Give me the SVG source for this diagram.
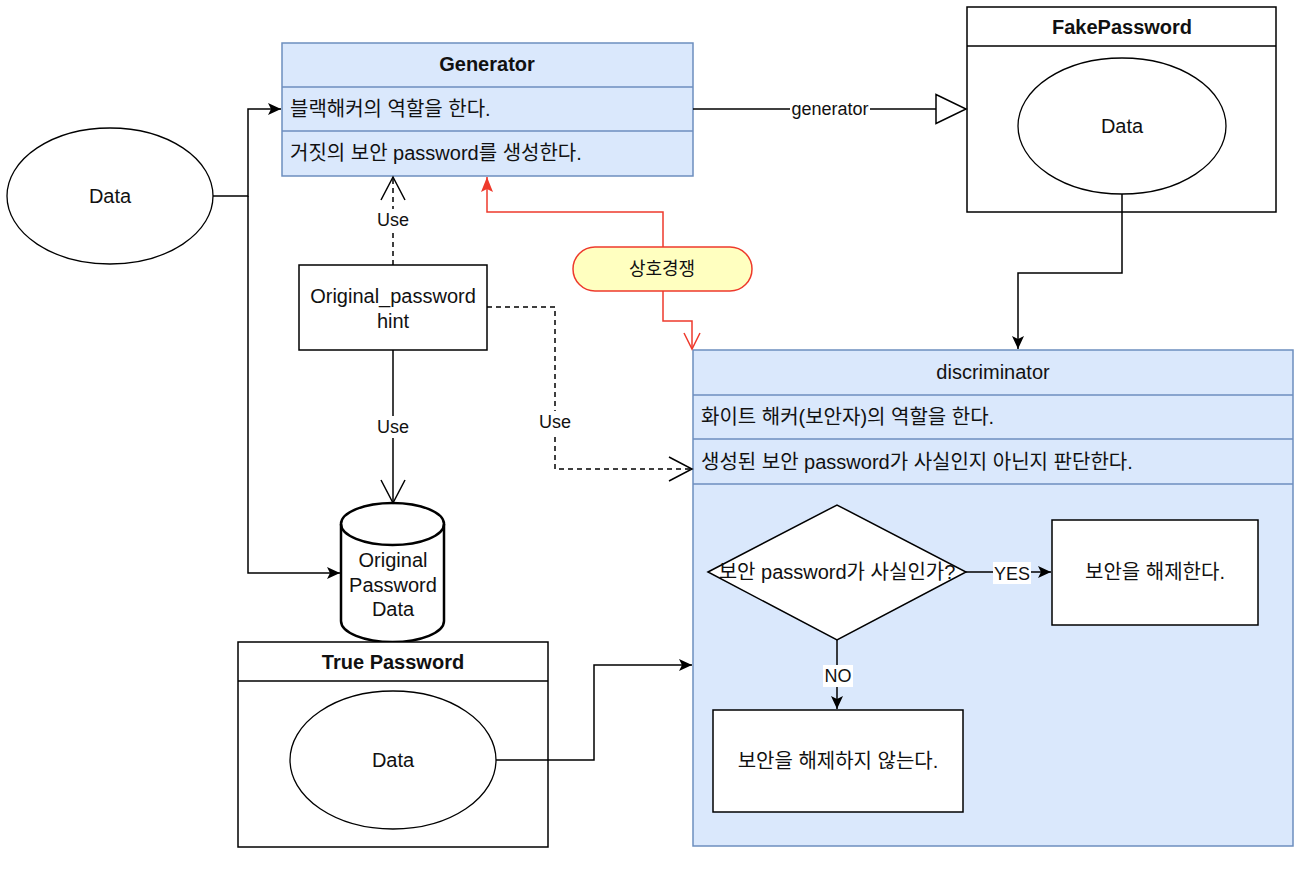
<svg xmlns="http://www.w3.org/2000/svg" width="1300" height="888" viewBox="0 0 1300 888">
<style>
text{font-family:"Liberation Sans","Noto Sans CJK KR",Arial,sans-serif;font-size:20px;fill:#111;dominant-baseline:central}
.c{text-anchor:middle}
.b{font-weight:bold}
.lbl{font-size:18px}
.blue{fill:#dae8fc;stroke:#6c8ebf;stroke-width:1.5}
.bl{stroke:#6c8ebf;stroke-width:1.5}
.box{fill:#fff;stroke:#000;stroke-width:1.5}
.ell{fill:#fff;stroke:#000;stroke-width:1.3}
.ln{fill:none;stroke:#000;stroke-width:1.5}
.dash{stroke-dasharray:5 4}
.red{fill:none;stroke:#ee3a2c;stroke-width:1.5}
</style>
<defs>
<marker id="aB" markerUnits="userSpaceOnUse" markerWidth="16" markerHeight="16" refX="13" refY="7" orient="auto"><path d="M0,1 L13,7 L0,13 L3,7 Z" fill="#000"/></marker>
<marker id="aV" markerUnits="userSpaceOnUse" markerWidth="28" markerHeight="28" refX="24" refY="13" orient="auto"><path d="M1,1 L24,13 L1,25" fill="none" stroke="#000" stroke-width="1.5"/></marker>
<marker id="aT" markerUnits="userSpaceOnUse" markerWidth="34" markerHeight="34" refX="31" refY="16" orient="auto"><path d="M1,1.5 L31,16 L1,30.5 Z" fill="#fff" stroke="#000" stroke-width="1.5"/></marker>
<marker id="aR" markerUnits="userSpaceOnUse" markerWidth="18" markerHeight="14" refX="15" refY="6" orient="auto"><path d="M0,0 L15,6 L0,12 L3,6 Z" fill="#ee3a2c"/></marker>
<marker id="aRV" markerUnits="userSpaceOnUse" markerWidth="20" markerHeight="20" refX="17" refY="9" orient="auto"><path d="M1,1 L17,9 L1,17" fill="none" stroke="#ee3a2c" stroke-width="1.5"/></marker>
</defs>

<g id="discriminator">
<rect x="693" y="350" width="600" height="496" class="blue"/>
<line x1="693" y1="395" x2="1293" y2="395" class="bl"/>
<line x1="693" y1="439" x2="1293" y2="439" class="bl"/>
<line x1="693" y1="484" x2="1293" y2="484" class="bl"/>
<text x="993" y="372" class="c">discriminator</text>
<text x="701" y="417">화이트 해커(보안자)의 역할을 한다.</text>
<text x="701" y="462">생성된 보안 password가 사실인지 아닌지 판단한다.</text>
</g>

<g id="decision">
<polygon points="708,572 837,505 966,572 837,640" class="box"/>
<text x="837" y="572" class="c">보안 password가 사실인가?</text>
</g>
<g id="unlock">
<rect x="1052" y="520" width="206" height="105" class="box"/>
<text x="1155" y="572" class="c">보안을 해제한다.</text>
</g>
<g id="nounlock">
<rect x="713" y="710" width="250" height="102" class="box"/>
<text x="838" y="761" class="c">보안을 해제하지 않는다.</text>
</g>

<g id="generator">
<rect x="282" y="43" width="411" height="133" class="blue"/>
<line x1="282" y1="87" x2="693" y2="87" class="bl"/>
<line x1="282" y1="131" x2="693" y2="131" class="bl"/>
<text x="487" y="64" class="c b">Generator</text>
<text x="290" y="109">블랙해커의 역할을 한다.</text>
<text x="290" y="153">거짓의 보안 password를 생성한다.</text>
</g>

<g id="fakepassword">
<rect x="967" y="7" width="309" height="205" class="box"/>
<line x1="967" y1="46" x2="1276" y2="46" class="ln"/>
<text x="1122" y="27" class="c b">FakePassword</text>
<ellipse cx="1122" cy="126" rx="104" ry="68" class="ell"/>
<text x="1122" y="126" class="c">Data</text>
</g>

<g id="data">
<ellipse cx="110" cy="196" rx="103" ry="68" class="ell"/>
<text x="110" y="196" class="c">Data</text>
</g>

<g id="hint">
<rect x="299" y="265" width="188" height="85" class="box"/>
<text x="393" y="296" class="c">Original_password</text>
<text x="393" y="321" class="c">hint</text>
</g>

<g id="originaldb">
<path d="M341,524 a51.5,21 0 0 1 103,0 v97 a51.5,21 0 0 1 -103,0 Z" fill="#fff" stroke="#000" stroke-width="2.5"/>
<path d="M341,524 a51.5,21 0 0 0 103,0" fill="none" stroke="#000" stroke-width="2.5"/>
<text x="393" y="560" class="c">Original</text>
<text x="393" y="585" class="c">Password</text>
<text x="393" y="609" class="c">Data</text>
</g>

<g id="truepassword">
<rect x="238" y="642" width="310" height="205" class="box"/>
<line x1="238" y1="681" x2="548" y2="681" class="ln"/>
<text x="393" y="662" class="c b">True Password</text>
<ellipse cx="393" cy="760" rx="103" ry="69" class="ell"/>
<text x="393" y="760" class="c">Data</text>
</g>

<g id="competition">
<rect x="573" y="247" width="179" height="44" rx="22" ry="22" fill="#ffffc0" stroke="#ee3a2c" stroke-width="1.5"/>
<text x="662" y="269" class="c lbl">상호경쟁</text>
</g>

<g id="connectors">
<path d="M213,196 H248 V109 H281" class="ln" marker-end="url(#aB)"/>
<path d="M248,196 V573 H340" class="ln" marker-end="url(#aB)"/>
<path d="M393,265 V177" class="ln dash" marker-end="url(#aV)"/>
<rect x="374" y="209" width="38" height="22" fill="#fff"/>
<text x="393" y="220" class="c lbl">Use</text>
<path d="M393,350 V503" class="ln" marker-end="url(#aV)"/>
<rect x="374" y="416" width="38" height="22" fill="#fff"/>
<text x="393" y="427" class="c lbl">Use</text>
<path d="M487,307 H555 V469 H692" class="ln dash" marker-end="url(#aV)"/>
<rect x="536" y="411" width="38" height="22" fill="#fff"/>
<text x="555" y="422" class="c lbl">Use</text>
<path d="M693,109 H966" class="ln" marker-end="url(#aT)"/>
<rect x="790" y="98" width="80" height="22" fill="#fff"/>
<text x="830" y="109" class="c lbl">generator</text>
<path d="M1122,194 V273 H1018 V349" class="ln" marker-end="url(#aB)"/>
<path d="M496,760 H594 V665 H692" class="ln" marker-end="url(#aB)"/>
<path d="M663,247 V212 H487 V177" class="red" marker-end="url(#aR)"/>
<path d="M663,291 V321 H692 V349" class="red" marker-end="url(#aRV)"/>
<path d="M966,572 H1051" class="ln" marker-end="url(#aB)"/>
<rect x="993" y="562" width="38" height="22" fill="#fff"/>
<text x="1012" y="574" class="c lbl">YES</text>
<path d="M837,640 V709" class="ln" marker-end="url(#aB)"/>
<rect x="823" y="665" width="30" height="22" fill="#fff"/>
<text x="838" y="676" class="c lbl">NO</text>
</g>
</svg>
